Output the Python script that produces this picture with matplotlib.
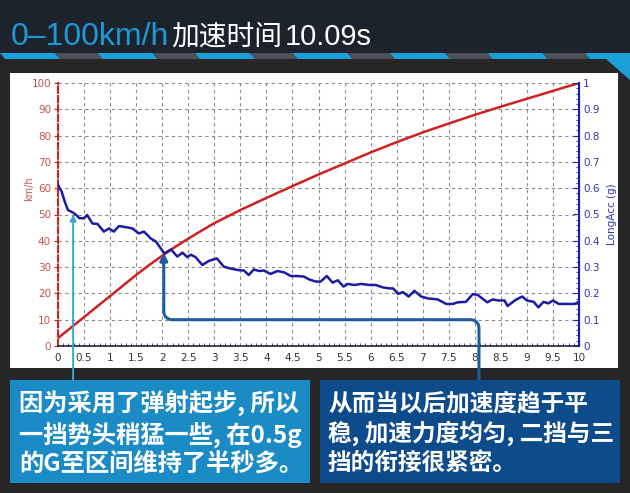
import numpy as np
import matplotlib
matplotlib.use('Agg')
import matplotlib.pyplot as plt
from matplotlib.patches import Rectangle, Polygon
from matplotlib.ticker import MultipleLocator, FormatStrFormatter

# 图片尺寸 (像素)
W, H = 630, 493

# 车速曲线 (km/h)
t_speed = [0, 0.25, 0.5, 0.75, 1.0, 1.25, 1.5, 1.75, 2.0, 2.25, 2.5, 2.75,
           3.0, 3.5, 4.0, 4.5, 5.0, 5.5, 6.0, 6.5, 7.0, 7.5, 8.0, 8.5, 9.0,
           9.5, 10.0]
speed_kmh = [3, 7, 11, 15, 19, 23, 27, 30.8, 34.3, 37.7, 40.8, 43.8,
             46.7, 51.7, 56.3, 60.8, 65.2, 69.4, 73.6, 77.5, 81.2, 84.6, 87.9,
             91, 94, 97, 100]

# 纵向加速度 (g)
t_acc = [0, 0.07, 0.13, 0.19, 0.29, 0.35, 0.41, 0.5, 0.56, 0.66, 0.76, 0.88,
         0.98, 1.07, 1.17, 1.3, 1.43, 1.55, 1.65, 1.78, 1.88, 2.04, 2.17,
         2.29, 2.39, 2.48, 2.55, 2.64, 2.77, 2.9, 3.05, 3.18, 3.3, 3.45,
         3.57, 3.66, 3.76, 3.86, 3.95, 4.08, 4.21, 4.34, 4.47, 4.6, 4.72,
         4.82, 4.95, 5.04, 5.16, 5.27, 5.37, 5.48, 5.56, 5.69, 5.82, 5.98,
         6.1, 6.23, 6.36, 6.43, 6.53, 6.62, 6.73, 6.84, 6.97, 7.1, 7.29,
         7.45, 7.58, 7.67, 7.83, 7.96, 8.05, 8.24, 8.34, 8.46, 8.57, 8.63,
         8.78, 8.91, 9.0, 9.13, 9.22, 9.32, 9.41, 9.5, 9.61, 9.76, 9.92,
         10.0]
acc_g = [0.612, 0.587, 0.549, 0.517, 0.507, 0.498, 0.486, 0.486, 0.498, 0.466,
         0.464, 0.435, 0.447, 0.435, 0.456, 0.452, 0.447, 0.428, 0.435, 0.409,
         0.397, 0.352, 0.367, 0.34, 0.355, 0.338, 0.347, 0.338, 0.308, 0.324,
         0.333, 0.302, 0.295, 0.289, 0.287, 0.27, 0.291, 0.285, 0.287, 0.274,
         0.285, 0.28, 0.266, 0.266, 0.264, 0.253, 0.245, 0.245, 0.266, 0.241,
         0.25, 0.226, 0.236, 0.232, 0.236, 0.232, 0.232, 0.223, 0.219, 0.219,
         0.198, 0.205, 0.188, 0.21, 0.188, 0.181, 0.177, 0.16, 0.16, 0.166,
         0.168, 0.197, 0.195, 0.166, 0.177, 0.173, 0.173, 0.152, 0.175, 0.188,
         0.173, 0.168, 0.147, 0.168, 0.162, 0.173, 0.16, 0.16, 0.16, 0.168]

title_blue = '0–100km/h'
title_cn = '加速时间'
title_num = '10.09s'
note_left = '因为采用了弹射起步, 所以\n一挡势头稍猛一些, 在0.5g\n的G至区间维持了半秒多。'
note_right = '从而当以后加速度趋于平\n稳, 加速力度均匀, 二挡与三\n挡的衔接很紧密。'

CJK = ['Noto Sans CJK SC', 'DejaVu Sans']
LAT = ['Liberation Sans', 'DejaVu Sans']

RED = '#cc2222'
NAVY = '#1c1ca0'


def fx(x):
    return x / W


def fy(y):
    return 1 - y / H


def prect(x0, y0, x1, y1, color, z=-10):
    return Rectangle((fx(x0), fy(y1)), fx(x1) - fx(x0), fy(y0) - fy(y1),
                     transform=fig.transFigure, facecolor=color,
                     edgecolor='none', zorder=z)


def ppoly(pts, color, z=-10):
    return Polygon([(fx(a), fy(b)) for a, b in pts], closed=True,
                   transform=fig.transFigure, facecolor=color,
                   edgecolor='none', zorder=z)


fig = plt.figure(figsize=(W / 100, H / 100), dpi=100, facecolor='#262626')

# 标题栏
fig.patches.append(prect(0, 0, W, 56, '#1d232c'))
period, blue_w, slant = 97.5, 55, 5
x = 0
while x < W:
    fig.patches.append(ppoly([(x, 53), (x + blue_w, 53), (x + blue_w + slant, 59),
                              (x + slant, 59)], '#1a9fd9'))
    fig.patches.append(ppoly([(x + blue_w, 53), (x + period, 53),
                              (x + period + slant, 59), (x + blue_w + slant, 59)],
                             '#4b5059'))
    x += period
fig.patches.append(ppoly([(606, 59), (W, 59), (W, 80)], '#1a9fd9'))

fig.text(fx(11), fy(45), title_blue, color='#1d9ad6', fontsize=23,
         family=LAT, va='baseline')
fig.text(fx(171), fy(45), title_cn, color='white', fontsize=20,
         family=CJK, va='baseline')
fig.text(fx(285), fy(45), title_num, color='white', fontsize=21,
         family=LAT, va='baseline')

# 图表白色底板
fig.patches.append(prect(10, 73, 618, 368, 'white'))

ax = fig.add_axes([fx(58), fy(346), fx(579) - fx(58), fy(83) - fy(346)])
ax.set_facecolor('white')
ax.set_xlim(0, 10)
ax.set_ylim(0, 100)
ax.xaxis.set_major_locator(MultipleLocator(0.5))
ax.xaxis.set_minor_locator(MultipleLocator(0.1))
ax.xaxis.set_major_formatter(FormatStrFormatter('%g'))
ax.yaxis.set_major_locator(MultipleLocator(10))
ax.grid(True, linestyle=(0, (3, 3)), color='#8a8a8a', lw=0.8)
ax.tick_params(axis='x', which='major', length=0, labelsize=7.5,
               labelcolor='#333333', pad=5)
ax.tick_params(axis='x', which='minor', length=2, direction='in',
               color='#333333')
ax.tick_params(axis='y', length=3, color=RED, labelsize=7.5,
               labelcolor='#c85050', pad=2)
ax.spines['top'].set_visible(False)
ax.spines['left'].set_color(RED)
ax.spines['left'].set_linestyle((0, (3, 1.5)))
ax.spines['left'].set_linewidth(1.5)
ax.spines['bottom'].set_color('#222244')
ax.spines['bottom'].set_linewidth(1.2)
ax.set_ylabel('km/h', color='#c85050', fontsize=7)
ax.yaxis.set_label_coords(-0.045, 0.6)
ax.plot(t_speed, speed_kmh, color=RED, lw=1.8, zorder=3)

ax2 = ax.twinx()
ax2.set_ylim(0, 1)
ax2.yaxis.set_major_locator(MultipleLocator(0.1))
ax2.yaxis.set_minor_locator(MultipleLocator(0.02))
ax2.yaxis.set_major_formatter(FormatStrFormatter('%g'))
ax2.tick_params(axis='y', which='major', direction='in', length=4,
                color=NAVY, labelsize=7.5, labelcolor='#3535a5', pad=3)
ax2.tick_params(axis='y', which='minor', direction='in', length=2, color=NAVY)
ax2.spines['right'].set_color(NAVY)
ax2.spines['right'].set_linewidth(1.5)
for s in ['top', 'left', 'bottom']:
    ax2.spines[s].set_visible(False)
ax2.set_ylabel('LongAcc (g)', color='#3535a5', fontsize=7.5)
ax2.yaxis.set_label_coords(1.053, 0.5)
ax2.plot(t_acc, acc_g, color=NAVY, lw=1.8, zorder=3)

# 标注箭头
ybot = (346 - 380) / 2.63
light = '#3aa6d6'
ax2.annotate('', xy=(0.29, 50), xycoords=ax.transData,
             xytext=(0.29, ybot), textcoords=ax.transData,
             arrowprops=dict(arrowstyle='-|>', color=light, lw=1.4,
                             mutation_scale=9, shrinkA=0, shrinkB=0),
             annotation_clip=False)

dark = '#1f5e9c'
xr, xl, yh = 8.08, 2.03, 10
rx, ry = 0.16, 3.1
a = np.linspace(0, np.pi / 2, 12)
px = ([xr] + list(xr - rx + rx * np.cos(a)) +
      list(xl + rx - rx * np.sin(a)))
py = ([ybot] + list(yh - ry + ry * np.sin(a)) +
      list(yh + ry - ry * np.cos(a)))
ax2.plot(px, py, color=dark, lw=2.2, transform=ax.transData, clip_on=False,
         solid_capstyle='butt', zorder=4)
ax2.annotate('', xy=(xl, 35.5), xycoords=ax.transData,
             xytext=(xl, yh + ry), textcoords=ax.transData,
             arrowprops=dict(arrowstyle='-|>', color=dark, lw=2.2,
                             mutation_scale=11, shrinkA=0, shrinkB=0),
             annotation_clip=False, zorder=4)

# 底部说明
fig.patches.append(prect(10, 380, 310, 483, '#1b8bc5'))
fig.patches.append(prect(320, 380, 620, 483, '#0e4b8b'))
fig.text(fx(19), fy(433), note_left, color='white', fontsize=17.5,
         fontweight='bold', family=CJK, va='center', linespacing=1.22)
fig.text(fx(328), fy(433), note_right, color='white', fontsize=17,
         fontweight='bold', family=CJK, va='center', linespacing=1.26)

fig.savefig('out.png', dpi=100, facecolor=fig.get_facecolor())
